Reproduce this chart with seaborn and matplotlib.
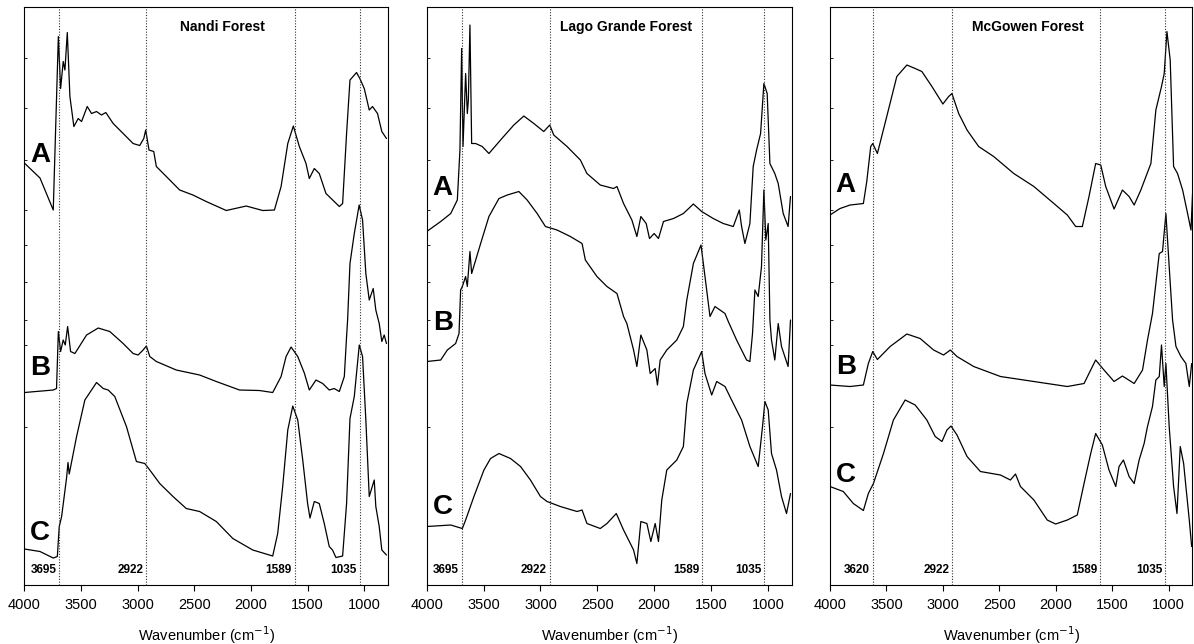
import numpy as np
import pandas as pd
import matplotlib
matplotlib.use("Agg")
import matplotlib.pyplot as plt
import seaborn as sns

# wavenumber (cm-1) and offset absorbance (a.u.)
nandi_a_wn = [4000, 3862, 3745, 3700, 3680, 3657, 3642, 3621, 3598, 3563, 3525, 3495, 3445, 3407, 3363,
              3319, 3281, 3216, 3128, 3040, 2982, 2946, 2929, 2900, 2858, 2835, 2747, 2629, 2512, 2395,
              2218, 2042, 1896, 1793, 1734, 1675, 1626, 1573, 1514, 1485, 1441, 1397, 1338, 1265, 1220,
              1191, 1156, 1126, 1068, 1039, 1000, 956, 927, 883, 845, 804]
nandi_a_y = [0.844, 0.814, 0.75, 1.097, 0.993, 1.047, 1.03, 1.105, 0.977, 0.917, 0.933, 0.927, 0.957, 0.943,
             0.947, 0.94, 0.945, 0.923, 0.903, 0.883, 0.879, 0.893, 0.91, 0.87, 0.867, 0.837, 0.817, 0.79,
             0.78, 0.767, 0.749, 0.758, 0.749, 0.75, 0.797, 0.883, 0.918, 0.877, 0.843, 0.813, 0.833, 0.823,
             0.783, 0.767, 0.757, 0.763, 0.903, 1.01, 1.025, 1.013, 0.993, 0.95, 0.957, 0.943, 0.907, 0.893]

nandi_b_wn = [4000, 3745, 3716, 3700, 3680, 3657, 3639, 3618, 3592, 3554, 3451, 3348, 3246, 3128, 3040,
              2996, 2952, 2923, 2893, 2835, 2659, 2453, 2306, 2101, 1925, 1808, 1734, 1690, 1646, 1587,
              1529, 1485, 1426, 1367, 1309, 1265, 1220, 1176, 1156, 1147, 1126, 1088, 1045, 1015, 986,
              956, 921, 898, 868, 845, 824, 804]
nandi_b_y = [0.385, 0.39, 0.393, 0.507, 0.467, 0.49, 0.48, 0.517, 0.467, 0.463, 0.5, 0.514, 0.507, 0.483,
             0.463, 0.46, 0.47, 0.478, 0.457, 0.447, 0.43, 0.42, 0.407, 0.39, 0.389, 0.385, 0.417, 0.457,
             0.476, 0.457, 0.424, 0.39, 0.41, 0.403, 0.39, 0.393, 0.387, 0.417, 0.497, 0.53, 0.643, 0.703,
             0.76, 0.73, 0.623, 0.57, 0.593, 0.55, 0.523, 0.487, 0.5, 0.483]

nandi_c_wn = [4000, 3862, 3745, 3709, 3692, 3671, 3627, 3615, 3604, 3539, 3466, 3363, 3304, 3260, 3202,
              3099, 3011, 2937, 2893, 2805, 2688, 2571, 2453, 2306, 2160, 1984, 1808, 1764, 1720, 1675,
              1631, 1587, 1543, 1500, 1479, 1441, 1397, 1353, 1309, 1280, 1250, 1191, 1156, 1126, 1088,
              1044, 1015, 986, 956, 912, 898, 868, 845, 804]
nandi_c_y = [0.072, 0.067, 0.054, 0.057, 0.117, 0.137, 0.215, 0.245, 0.222, 0.297, 0.37, 0.405, 0.393, 0.39,
             0.377, 0.317, 0.247, 0.243, 0.23, 0.203, 0.177, 0.153, 0.147, 0.127, 0.093, 0.07, 0.058, 0.103,
             0.197, 0.31, 0.358, 0.33, 0.25, 0.163, 0.134, 0.167, 0.163, 0.123, 0.077, 0.07, 0.055, 0.058,
             0.163, 0.333, 0.377, 0.48, 0.457, 0.33, 0.177, 0.21, 0.157, 0.117, 0.07, 0.06]

lago_a_wn = [4000, 3877, 3789, 3731, 3708, 3693, 3681, 3658, 3643, 3634, 3620, 3605, 3570, 3512, 3453,
             3351, 3234, 3146, 3058, 2971, 2918, 2883, 2766, 2649, 2591, 2474, 2357, 2327, 2269, 2196,
             2152, 2117, 2070, 2041, 2000, 1962, 1918, 1830, 1743, 1655, 1582, 1480, 1392, 1304, 1251,
             1231, 1202, 1158, 1129, 1099, 1064, 1035, 1006, 982, 939, 909, 865, 822, 801]
lago_a_y = [0.707, 0.727, 0.743, 0.77, 0.87, 1.073, 0.877, 1.023, 0.943, 0.97, 1.12, 0.883, 0.883, 0.877,
            0.863, 0.89, 0.92, 0.938, 0.923, 0.907, 0.92, 0.9, 0.877, 0.85, 0.823, 0.8, 0.793, 0.797, 0.763,
            0.73, 0.697, 0.737, 0.723, 0.693, 0.703, 0.693, 0.727, 0.733, 0.743, 0.762, 0.747, 0.733, 0.723,
            0.717, 0.75, 0.717, 0.683, 0.723, 0.837, 0.87, 0.903, 1.003, 0.983, 0.843, 0.823, 0.803, 0.743,
            0.717, 0.777]

lago_b_wn = [4000, 3877, 3819, 3746, 3716, 3702, 3687, 3658, 3643, 3620, 3605, 3526, 3453, 3365, 3292,
             3190, 3117, 3029, 2956, 2854, 2737, 2634, 2605, 2503, 2415, 2327, 2269, 2240, 2181, 2152,
             2117, 2064, 2035, 1991, 1971, 1947, 1889, 1801, 1743, 1713, 1655, 1588, 1553, 1509, 1465,
             1377, 1348, 1275, 1187, 1158, 1135, 1114, 1085, 1056, 1035, 1018, 997, 982, 968, 939, 909,
             880, 851, 822, 801]
lago_b_y = [0.447, 0.45, 0.47, 0.483, 0.503, 0.59, 0.597, 0.617, 0.597, 0.667, 0.623, 0.683, 0.737, 0.773,
            0.78, 0.787, 0.77, 0.743, 0.717, 0.71, 0.697, 0.683, 0.65, 0.617, 0.597, 0.583, 0.537, 0.523,
            0.47, 0.437, 0.5, 0.47, 0.423, 0.433, 0.4, 0.45, 0.47, 0.49, 0.517, 0.57, 0.643, 0.68, 0.617,
            0.537, 0.557, 0.543, 0.527, 0.49, 0.45, 0.447, 0.503, 0.59, 0.577, 0.637, 0.79, 0.69, 0.723,
            0.53, 0.49, 0.45, 0.523, 0.477, 0.457, 0.437, 0.53]

lago_c_wn = [4000, 3789, 3687, 3658, 3585, 3497, 3439, 3365, 3263, 3175, 3088, 3000, 2942, 2825, 2678,
             2634, 2591, 2474, 2415, 2333, 2269, 2181, 2152, 2117, 2064, 2029, 1991, 1962, 1933, 1889,
             1801, 1743, 1713, 1655, 1582, 1553, 1494, 1450, 1377, 1319, 1231, 1158, 1085, 1047, 1026,
             997, 968, 924, 880, 836, 801]
lago_c_y = [0.117, 0.12, 0.113, 0.13, 0.177, 0.23, 0.253, 0.263, 0.253, 0.237, 0.21, 0.177, 0.167, 0.157,
            0.147, 0.15, 0.123, 0.113, 0.123, 0.143, 0.11, 0.07, 0.043, 0.127, 0.123, 0.087, 0.123, 0.087,
            0.17, 0.23, 0.25, 0.277, 0.363, 0.43, 0.467, 0.423, 0.38, 0.407, 0.397, 0.37, 0.33, 0.277,
            0.237, 0.317, 0.367, 0.35, 0.263, 0.23, 0.177, 0.143, 0.183]

mcg_a_wn = [4000, 3911, 3822, 3704, 3674, 3639, 3621, 3580, 3497, 3408, 3319, 3245, 3186, 3097, 3000,
            2949, 2920, 2860, 2786, 2683, 2550, 2372, 2194, 2017, 1898, 1824, 1765, 1706, 1647, 1602,
            1558, 1484, 1410, 1351, 1306, 1247, 1158, 1114, 1064, 1040, 1016, 987, 957, 922, 877, 833,
            803, 789]
mcg_a_y = [0.74, 0.753, 0.76, 0.763, 0.807, 0.877, 0.883, 0.863, 0.937, 1.017, 1.04, 1.033, 1.027, 0.997,
           0.962, 0.977, 0.983, 0.943, 0.91, 0.877, 0.857, 0.823, 0.797, 0.763, 0.74, 0.717, 0.717, 0.777,
           0.843, 0.84, 0.797, 0.752, 0.79, 0.777, 0.76, 0.79, 0.843, 0.95, 0.997, 1.023, 1.107, 1.05,
           0.837, 0.823, 0.79, 0.743, 0.71, 0.783]

mcg_b_wn = [4000, 3822, 3704, 3660, 3621, 3580, 3467, 3319, 3201, 3082, 2994, 2934, 2875, 2727, 2490,
            2194, 1898, 1750, 1691, 1647, 1573, 1484, 1410, 1306, 1232, 1188, 1144, 1084, 1055, 1025,
            996, 966, 936, 892, 848, 818, 797]
mcg_b_y = [0.4, 0.397, 0.4, 0.443, 0.467, 0.451, 0.477, 0.502, 0.493, 0.47, 0.46, 0.47, 0.457, 0.437,
           0.417, 0.407, 0.397, 0.403, 0.43, 0.45, 0.43, 0.407, 0.418, 0.403, 0.43, 0.49, 0.543, 0.663,
           0.667, 0.743, 0.637, 0.53, 0.477, 0.457, 0.443, 0.397, 0.443]

mcg_c_wn = [4000, 3882, 3793, 3704, 3660, 3615, 3526, 3438, 3334, 3245, 3142, 3068, 3008, 2964, 2928,
            2875, 2786, 2668, 2490, 2402, 2357, 2313, 2194, 2076, 2002, 1898, 1810, 1750, 1691, 1647,
            1588, 1529, 1469, 1440, 1401, 1351, 1306, 1262, 1218, 1188, 1144, 1114, 1084, 1064, 1040,
            1025, 996, 957, 927, 898, 868, 848, 818, 797]
mcg_c_y = [0.197, 0.187, 0.163, 0.149, 0.183, 0.203, 0.263, 0.33, 0.37, 0.36, 0.33, 0.297, 0.287, 0.31,
           0.318, 0.3, 0.257, 0.227, 0.22, 0.21, 0.222, 0.197, 0.17, 0.13, 0.122, 0.13, 0.14, 0.203, 0.263,
           0.303, 0.28, 0.23, 0.197, 0.237, 0.25, 0.217, 0.203, 0.25, 0.283, 0.317, 0.357, 0.41, 0.417,
           0.48, 0.397, 0.443, 0.317, 0.197, 0.143, 0.277, 0.243, 0.197, 0.13, 0.077]

panel_titles = ["Nandi Forest", "Lago Grande Forest", "McGowen Forest"]
band_lines = [[3690, 2922, 1615, 1040], [3690, 2920, 1580, 1032], [3620, 2915, 1605, 1032]]
band_labels = [["3695", "2922", "1589", "1035"], ["3695", "2922", "1589", "1035"],
               ["3620", "2922", "1589", "1035"]]
sample_names = ["A", "B", "C"]
sample_label_y = [[0.86, 0.434, 0.104], [0.794, 0.524, 0.156], [0.80, 0.436, 0.22]]
ytick_pos = [1.054, 0.954, 0.85, 0.75, 0.68, 0.606, 0.53, 0.48, 0.316]

spectra = [
    [(nandi_a_wn, nandi_a_y), (nandi_b_wn, nandi_b_y), (nandi_c_wn, nandi_c_y)],
    [(lago_a_wn, lago_a_y), (lago_b_wn, lago_b_y), (lago_c_wn, lago_c_y)],
    [(mcg_a_wn, mcg_a_y), (mcg_b_wn, mcg_b_y), (mcg_c_wn, mcg_c_y)],
]

sns.set_style("ticks", {"axes.edgecolor": "black", "text.color": "black", "axes.labelcolor": "black",
                        "xtick.color": "black", "ytick.color": "black"})
plt.rcParams["font.family"] = ["Liberation Sans", "DejaVu Sans"]

fig = plt.figure(figsize=(11.94, 6.44), dpi=100)
lefts = [0.0204, 0.3574, 0.6951]
widths = [0.3046, 0.3057, 0.3036]

for p in range(3):
    ax = fig.add_axes([lefts[p], 0.0916, widths[p], 0.8975])
    for s, (wn, y) in enumerate(spectra[p]):
        df = pd.DataFrame({"wn": wn, "y": y})
        sns.lineplot(data=df, x="wn", y="y", ax=ax, color="black", linewidth=0.9,
                     estimator=None, sort=False)
        ax.text(3860, sample_label_y[p][s], sample_names[s], fontsize=20,
                fontweight="bold", ha="center", va="center", color="black")
    for xv, lab in zip(band_lines[p], band_labels[p]):
        ax.axvline(xv, color="#333333", linestyle=(0, (1, 1.5)), linewidth=0.8)
        ax.text(xv + 25, 0.026, lab, transform=ax.get_xaxis_transform(), ha="right", va="center",
                fontsize=8.5, fontweight="bold", color="black")
    ax.text(2250, 0.965, panel_titles[p], transform=ax.get_xaxis_transform(), ha="center",
            va="center", fontsize=10, fontweight="bold", color="black")
    ax.set_xlim(4000, 790)
    ax.set_ylim(0, 1.156)
    ax.set_xticks([4000, 3500, 3000, 2500, 2000, 1500, 1000])
    ax.set_yticks(ytick_pos)
    ax.set_yticklabels([])
    ax.tick_params(axis="y", direction="in", length=2.5, width=0.6, color="black")
    ax.tick_params(axis="x", direction="out", length=4, width=0.8, labelsize=10.5, pad=5,
                   color="black", labelcolor="black")
    ax.set_ylabel("")
    ax.set_xlabel("Wavenumber (cm$^{-1}$)", fontsize=10.5, labelpad=9, color="black")
    for sp in ax.spines.values():
        sp.set_visible(True)
        sp.set_linewidth(0.8)
        sp.set_color("black")

fig.savefig("out.png", dpi=100)
